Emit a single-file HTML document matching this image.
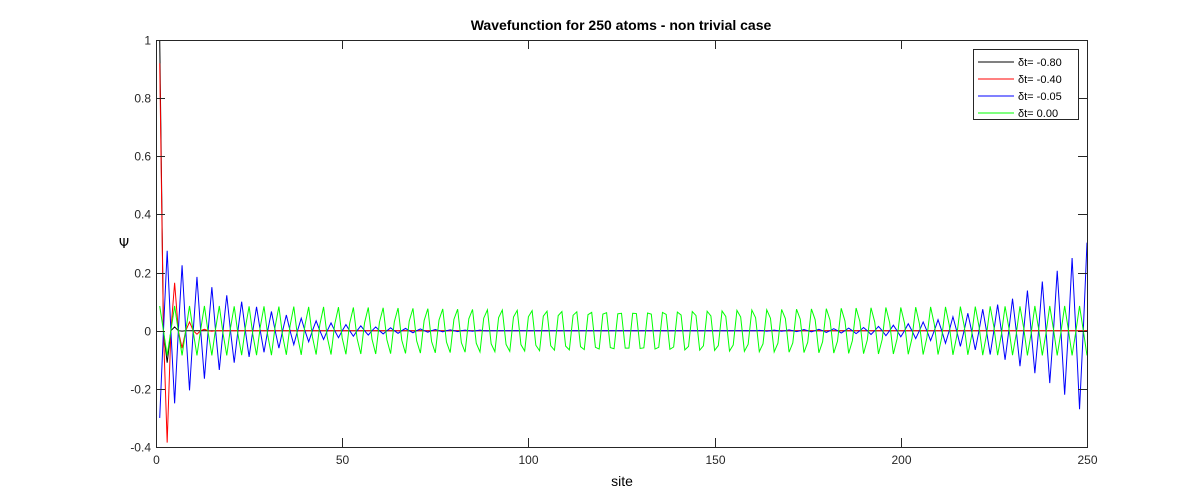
<!DOCTYPE html>
<html><head><meta charset="utf-8"><style>
body{margin:0;background:#fff;}
svg{display:block;font-family:"Liberation Sans",Arial,sans-serif;}
</style></head><body>
<svg id="chart" width="1200" height="502" viewBox="0 0 1200 502">
<rect width="1200" height="502" fill="#fff"/>
<text x="621" y="30" text-anchor="middle" font-size="14" font-weight="bold">Wavefunction for 250 atoms - non trivial case</text>
<g id="plot"></g>
<g id="axes"></g>
<text x="622" y="486" text-anchor="middle" font-size="14">site</text>
<text x="124" y="248" text-anchor="middle" font-size="13" font-family="DejaVu Sans, sans-serif">Ψ</text>
<g id="legend"></g>
</svg>
<script>
const xTicks=[0,50,100,150,200,250];
const yTicks=[-0.4,-0.2,0,0.2,0.4,0.6,0.8,1];
const yTickLabels=["-0.4","-0.2","0","0.2","0.4","0.6","0.8","1"];
const nSites=250;
const seriesNames=["δt= -0.80","δt= -0.40","δt= -0.05","δt= 0.00"];
const seriesColors=["#000000","#ff0000","#0000ff","#00ff00"];
const blackOdd=[1.0,-0.11,0.013,-0.0015];
const redOdd=[0.92,-0.385,0.165,-0.06,0.03,-0.012,0.005,-0.002];
const blueLeft=[0.30,0.275,0.25,0.225,0.205,0.185,0.165,0.15,0.135,0.122,0.11,0.10,0.09,0.082,0.074,0.066,0.06,0.054,0.048,0.043,0.038,0.034,0.030,0.027,0.024,0.021,0.019,0.017,0.015,0.013,0.011,0.010,0.009,0.008,0.007,0.006,0.005,0.004,0.004,0.003,0.003,0.002,0.002,0.002,0.001];
const blueRight=[0.303,0.27,0.25,0.22,0.206,0.18,0.169,0.146,0.138,0.122,0.11,0.10,0.09,0.082,0.074,0.066,0.06,0.054,0.048,0.043,0.038,0.034,0.030,0.027,0.024,0.021,0.019,0.017,0.015,0.013,0.011,0.010,0.009,0.008,0.007,0.006,0.005,0.004,0.004,0.003,0.003,0.002,0.002,0.002,0.001];
const greenA=[.085,.085,.085,.085,.085,.084,.084,.084,.083,.083,.082,.082,.081,.080,.080,.079,.078,.077,.076,.075,.074,.073,.072,.071,.070,.069,.067,.066,.065,.063,.062,.060,.059,.057,.056,.054,.052,.051,.049,.047,.045,.043,.042,.040,.038,.036,.034,.032,.030,.028,.026,.024,.022,.020,.018,.015,.013,.011,.009,.007,.005,.003,.001];
const greenB=[0,.002,.004,.006,.009,.011,.013,.015,.017,.019,.021,.023,.025,.027,.029,.031,.033,.035,.037,.039,.041,.043,.045,.047,.048,.050,.052,.053,.055,.057,.058,.060,.061,.063,.064,.066,.067,.068,.070,.071,.072,.073,.074,.075,.076,.077,.078,.079,.080,.080,.081,.082,.082,.083,.083,.084,.084,.084,.085,.085,.085,.085,.085];

const X0=156,X1=1087,Y0=447,Y1=40;
const xs=v=>X0+(v-0)/(250-0)*(X1-X0);
const ys=v=>Y0-(v-(-0.4))/(1-(-0.4))*(Y0-Y1);
const NS="http://www.w3.org/2000/svg";
function mk(tag,attrs,parent){const e=document.createElementNS(NS,tag);for(const k in attrs)e.setAttribute(k,attrs[k]);parent.appendChild(e);return e;}

function build(){
  const black=new Array(nSites).fill(0),red=new Array(nSites).fill(0),blue=new Array(nSites).fill(0),green=new Array(nSites).fill(0);
  blackOdd.forEach((v,i)=>{black[2*i]=v;});
  redOdd.forEach((v,i)=>{red[2*i]=v;});
  blueLeft.forEach((v,i)=>{blue[2*i]+=(i%2===0?-v:v);});
  blueRight.forEach((v,i)=>{blue[nSites-1-2*i]+=(i%2===0?v:-v);});
  for(let k=0;k<greenA.length;k++){
    const b=4*k;
    if(b<nSites)green[b]=greenA[k];
    if(b+1<nSites)green[b+1]=-greenB[k];
    if(b+2<nSites)green[b+2]=-greenA[k];
    if(b+3<nSites)green[b+3]=greenB[k];
  }
  return [black,red,blue,green];
}
const all=build();
const plot=document.getElementById('plot');
const names=['series-black-dt-0.80','series-red-dt-0.40','series-blue-dt-0.05','series-green-dt-0.00'];
all.forEach((arr,si)=>{
  const pts=arr.map((v,i)=>xs(i+1).toFixed(2)+','+ys(v).toFixed(2)).join(' ');
  const pl=mk('polyline',{points:pts,fill:'none',stroke:seriesColors[si],'stroke-width':1},plot);
  
  
});
const ax=document.getElementById('axes');
const box=mk('rect',{x:X0+0.5,y:Y1+0.5,width:X1-X0,height:Y0-Y1,fill:'none',stroke:'#262626','stroke-width':1},ax);


xTicks.forEach(t=>{
  const x=Math.round(xs(t))+0.5;
  mk('line',{x1:x,x2:x,y1:Y0,y2:Y0-9,stroke:'#262626'},ax);
  mk('line',{x1:x,x2:x,y1:Y1,y2:Y1+9,stroke:'#262626'},ax);
  const tx=mk('text',{x:x,y:Y0+17,'text-anchor':'middle','font-size':12,fill:'#262626'},ax);
  tx.textContent=t;
  
  
});
yTicks.forEach((t,i)=>{
  const y=Math.round(ys(t))+0.5;
  mk('line',{x1:X0,x2:X0+9,y1:y,y2:y,stroke:'#262626'},ax);
  mk('line',{x1:X1,x2:X1-9,y1:y,y2:y,stroke:'#262626'},ax);
  const tx=mk('text',{x:X0-5,y:y+4,'text-anchor':'end','font-size':12,fill:'#262626'},ax);
  tx.textContent=yTickLabels[i];
  
  
});
const lg=document.getElementById('legend');
const lr=mk('rect',{x:973.5,y:49.5,width:105,height:70,fill:'#fff',stroke:'#262626'},lg);


seriesNames.forEach((n,i)=>{
  const y=62+i*17;
  const g=mk('g',{},lg);
  
  
  mk('line',{x1:978,x2:1014,y1:y,y2:y,stroke:seriesColors[i],'stroke-width':1.3,'shape-rendering':'crispEdges'},g);
  const t=mk('text',{x:1018,y:y+4,'font-size':11,fill:'#000'},g);
  t.textContent=n;
});
</script>
</body></html>
